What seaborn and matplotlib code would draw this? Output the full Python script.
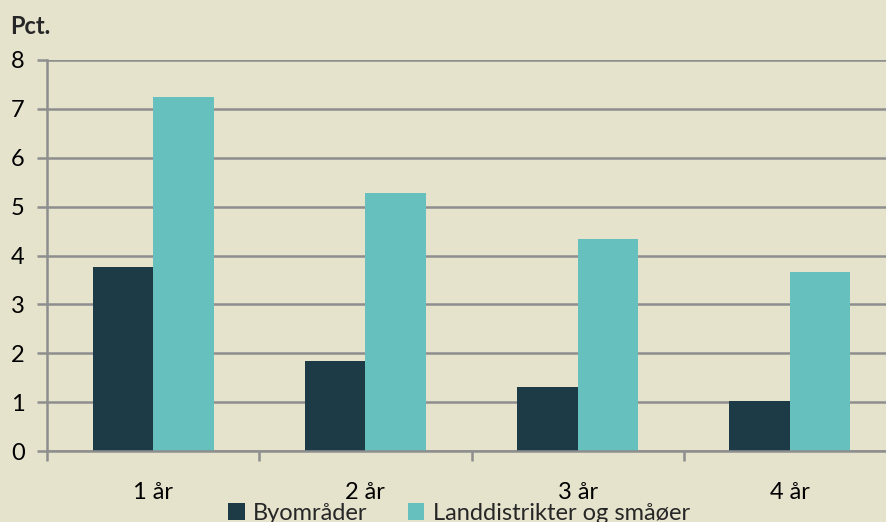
import pandas as pd
import seaborn as sns
import matplotlib.pyplot as plt
from matplotlib.ticker import FixedLocator

# Data
categories = ['1 år', '2 år', '3 år', '4 år']
series_names = ['Byområder', 'Landdistrikter og småøer']
byomrader = [3.77, 1.84, 1.30, 1.02]
landdistrikter = [7.24, 5.28, 4.34, 3.66]
y_ticks = [0, 1, 2, 3, 4, 5, 6, 7, 8]

bg = '#E6E3CD'
grid_col = '#8E8E8E'
colors = ['#1C3B47', '#66C0BE']
fs = 17

# Long-form table for seaborn
df = pd.DataFrame({
    'Periode': categories * 2,
    'Serie': [series_names[0]] * 4 + [series_names[1]] * 4,
    'Pct': byomrader + landdistrikter,
})

sns.set_theme(style='white')
plt.rcParams['font.family'] = ['Lato', 'DejaVu Sans']

fig = plt.figure(figsize=(8.86, 5.22), dpi=100, facecolor=bg)
ax = fig.add_axes([47 / 886, 71 / 522, 849 / 886, 391 / 522])
ax.set_facecolor(bg)

sns.barplot(data=df, x='Periode', y='Pct', hue='Serie', palette=colors,
            width=0.57, gap=0, saturation=1, legend=True, ax=ax,
            edgecolor='none', linewidth=0)

ax.set_xlim(-0.5, 3.5)
ax.set_ylim(0, 8)
ax.set_yticks(y_ticks)
ax.yaxis.grid(True, color=grid_col, linewidth=1.8)
ax.set_axisbelow(True)

for side in ['top', 'right']:
    ax.spines[side].set_visible(False)
for side in ['left', 'bottom']:
    ax.spines[side].set_color(grid_col)
    ax.spines[side].set_linewidth(1.8)

ax.set_xlabel('')
ax.set_ylabel('')
ax.tick_params(axis='y', which='major', length=7, width=1.8, color=grid_col,
               labelsize=fs, pad=9, left=True)
ax.tick_params(axis='x', which='major', length=0, labelsize=fs, pad=22)
ax.xaxis.set_minor_locator(FixedLocator([-0.5, 0.5, 1.5, 2.5, 3.5]))
ax.tick_params(axis='x', which='minor', length=7, width=1.8, color=grid_col,
               bottom=True)
for lbl in ax.get_yticklabels() + ax.get_xticklabels():
    lbl.set_color('black')

fig.text(10 / 886, 1 - 26 / 522, 'Pct.', fontsize=fs, fontweight='bold',
         va='center', ha='left')

handles, labels = ax.get_legend_handles_labels()
ax.get_legend().remove()
fig.legend(handles, labels, loc='center', bbox_to_anchor=(459 / 886, 1 - 513 / 522),
           ncol=2, frameon=False, fontsize=fs, handlelength=0.7,
           handleheight=0.7, handletextpad=0.35, columnspacing=1.7,
           borderaxespad=0, borderpad=0)

fig.savefig('out.png', dpi=100, facecolor=bg)
